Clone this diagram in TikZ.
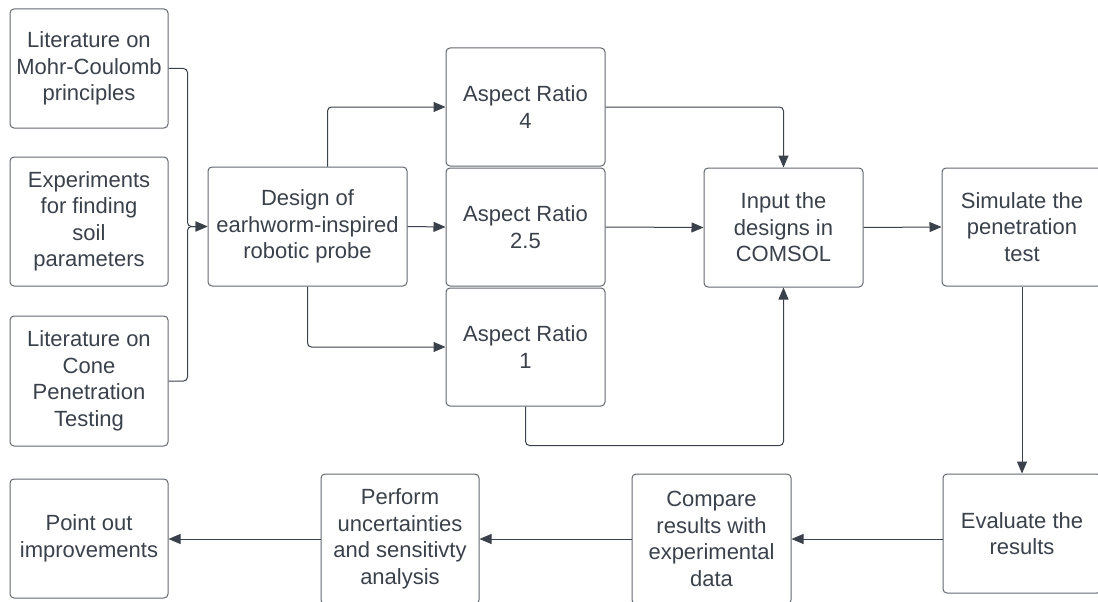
\documentclass[tikz,border=0pt]{standalone}
\usepackage{fontspec}
\setmainfont{Liberation Sans}
\usetikzlibrary{arrows.meta}
\definecolor{boxline}{HTML}{62676E}
\definecolor{ink}{HTML}{3A414A}
\tikzset{
  proc/.style={draw=boxline, line width=1pt, rounded corners=4pt, align=center,
    text=ink, font=\fontsize{22}{26.5}\selectfont, inner sep=0pt},
  link/.style={draw=ink, line width=1pt, rounded corners=4pt,
    -{Triangle[length=12pt,width=10pt]}}
}
\begin{document}
\begin{tikzpicture}[x=1pt,y=-1pt]
\useasboundingbox (0,0) rectangle (1098,602);

% sources feeding the design
\node[proc, minimum width=158pt, minimum height=119pt] (lit1) at (89,68.5)
  {Literature on\\Mohr-Coulomb\\principles};
\node[proc, minimum width=158pt, minimum height=129pt] (exp) at (89,221.5)
  {Experiments\\for finding\\soil\\parameters};
\node[proc, minimum width=158pt, minimum height=130pt] (cone) at (89,381)
  {Literature on\\Cone\\Penetration\\Testing};

% design and its three variants
\node[proc, minimum width=199pt, minimum height=119pt] (design) at (307.5,226.5)
  {Design of\\earhworm-inspired\\robotic probe};
\node[proc, minimum width=159pt, minimum height=118pt] (ar4) at (525.5,107)
  {Aspect Ratio\\4};
\node[proc, minimum width=159pt, minimum height=118pt] (ar25) at (525.5,227)
  {Aspect Ratio\\2.5};
\node[proc, minimum width=159pt, minimum height=118pt] (ar1) at (525.5,347)
  {Aspect Ratio\\1};

% simulation chain
\node[proc, minimum width=159pt, minimum height=119pt] (comsol) at (783.5,227.5)
  {Input the\\designs in\\COMSOL};
\node[proc, minimum width=160pt, minimum height=118pt] (sim) at (1022,227)
  {Simulate the\\penetration\\test};
\node[proc, minimum width=158pt, minimum height=119pt] (eval) at (1022,533.5)
  {Evaluate the\\results};
\node[proc, minimum width=159pt, minimum height=130pt] (cmp) at (711.5,539)
  {Compare\\results with\\experimental\\data};
\node[proc, minimum width=158pt, minimum height=130pt] (perf) at (400,539)
  {Perform\\uncertainties\\and sensitivty\\analysis};
\node[proc, minimum width=158pt, minimum height=119pt] (point) at (89,538.5)
  {Point out\\improvements};

% connectors
\draw[link] (lit1.east) -| ([xshift=-20pt]design.west) -- (design.west);
\draw[link] (cone.east) -| ([xshift=-20pt]design.west) -- (design.west);
\draw[link] ([xshift=20pt]design.north) |- (ar4.west);
\draw[link] (design.east) -- (ar25.west);
\draw[link] (design.south) |- (ar1.west);
\draw[link] (ar4.east) -| (comsol.north);
\draw[link] (ar25.east) -- (comsol.west);
\draw[link] (ar1.south) -- ++(0,39) -| (comsol.south);
\draw[link] (comsol.east) -- (sim.west);
\draw[link] (sim.south) -- (eval.north);
\draw[link] (eval.west |- cmp.east) -- (cmp.east);
\draw[link] (cmp.west) -- (perf.east);
\draw[link] (perf.west) -- (point.east |- perf.west);
\end{tikzpicture}
\end{document}
